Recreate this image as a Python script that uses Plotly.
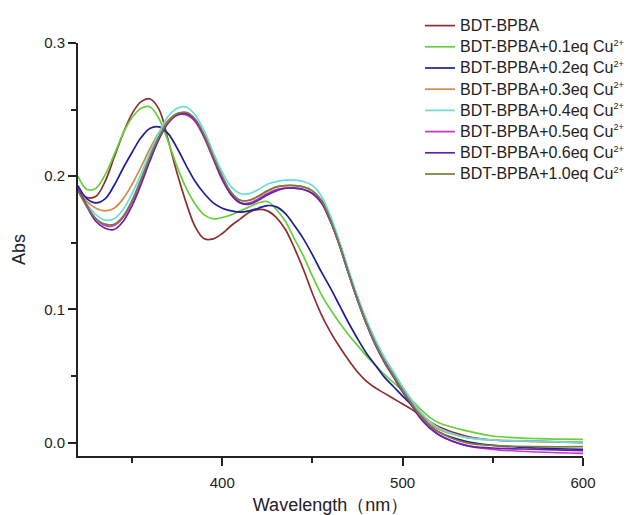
import plotly.graph_objects as go

wavelength = [320, 325, 330, 335, 340, 345, 350, 355, 360, 365, 370, 375, 380, 385, 390, 395,
              400, 405, 410, 415, 420, 425, 430, 435, 440, 445, 450, 455, 460, 465, 470, 475,
              480, 485, 490, 495, 500, 505, 510, 515, 520, 535, 550, 575, 600]

abs_0_0 = [0.190, 0.184, 0.185, 0.196, 0.214, 0.232, 0.247, 0.256, 0.258, 0.250, 0.227, 0.202,
           0.180, 0.162, 0.153, 0.153, 0.157, 0.163, 0.168, 0.173, 0.175, 0.174, 0.169, 0.160,
           0.146, 0.130, 0.112, 0.096, 0.083, 0.072, 0.062, 0.053, 0.046, 0.041, 0.037, 0.033,
           0.029, 0.025, 0.020, 0.016, 0.012, 0.005, 0.002, 0.001, 0.000]

abs_0_1 = [0.200, 0.190, 0.191, 0.201, 0.216, 0.232, 0.244, 0.251, 0.252, 0.243, 0.226, 0.207,
           0.191, 0.179, 0.171, 0.168, 0.169, 0.171, 0.174, 0.177, 0.180, 0.181, 0.175, 0.166,
           0.153, 0.140, 0.125, 0.111, 0.100, 0.090, 0.081, 0.073, 0.065, 0.058, 0.051, 0.045,
           0.039, 0.032, 0.025, 0.019, 0.015, 0.009, 0.005, 0.003, 0.0025]

abs_0_2 = [0.193, 0.183, 0.180, 0.183, 0.193, 0.206, 0.218, 0.229, 0.236, 0.237, 0.232, 0.221,
           0.208, 0.196, 0.187, 0.180, 0.176, 0.174, 0.173, 0.174, 0.176, 0.178, 0.177, 0.172,
           0.163, 0.153, 0.141, 0.128, 0.116, 0.103, 0.090, 0.078, 0.067, 0.058, 0.049, 0.042,
           0.035, 0.028, 0.020, 0.013, 0.008, 0.001, -0.002, -0.004, -0.005]

abs_0_3 = [0.190, 0.181, 0.176, 0.174, 0.176, 0.183, 0.194, 0.207, 0.221, 0.233, 0.242, 0.247,
           0.247, 0.241, 0.229, 0.213, 0.198, 0.187, 0.182, 0.182, 0.185, 0.189, 0.192, 0.193,
           0.193, 0.192, 0.189, 0.182, 0.168, 0.150, 0.128, 0.108, 0.090, 0.075, 0.062, 0.052,
           0.041, 0.031, 0.022, 0.015, 0.010, 0.004, 0.002, 0.001, 0.0005]

abs_0_4 = [0.190, 0.179, 0.171, 0.167, 0.168, 0.175, 0.187, 0.202, 0.218, 0.233, 0.245, 0.251,
           0.252, 0.246, 0.234, 0.218, 0.203, 0.192, 0.187, 0.187, 0.190, 0.194, 0.196, 0.197,
           0.197, 0.196, 0.193, 0.185, 0.170, 0.151, 0.130, 0.110, 0.092, 0.077, 0.064, 0.053,
           0.042, 0.032, 0.023, 0.016, 0.011, 0.004, 0.002, 0.001, 0.000]

abs_0_5 = [0.191, 0.178, 0.168, 0.163, 0.163, 0.169, 0.181, 0.197, 0.214, 0.229, 0.240, 0.246,
           0.246, 0.241, 0.229, 0.213, 0.197, 0.186, 0.180, 0.180, 0.183, 0.187, 0.190, 0.191,
           0.191, 0.190, 0.187, 0.180, 0.166, 0.148, 0.127, 0.107, 0.089, 0.074, 0.061, 0.050,
           0.039, 0.029, 0.019, 0.012, 0.006, -0.002, -0.005, -0.007, -0.008]

abs_0_6 = [0.192, 0.177, 0.166, 0.161, 0.160, 0.166, 0.178, 0.194, 0.212, 0.228, 0.240, 0.246,
           0.247, 0.242, 0.230, 0.214, 0.198, 0.186, 0.180, 0.179, 0.182, 0.186, 0.189, 0.191,
           0.191, 0.190, 0.187, 0.180, 0.166, 0.148, 0.127, 0.107, 0.089, 0.073, 0.060, 0.049,
           0.038, 0.028, 0.018, 0.011, 0.006, -0.002, -0.004, -0.005, -0.006]

abs_1_0 = [0.189, 0.177, 0.168, 0.164, 0.164, 0.170, 0.182, 0.198, 0.215, 0.230, 0.241, 0.247,
           0.248, 0.243, 0.231, 0.215, 0.200, 0.188, 0.182, 0.182, 0.185, 0.189, 0.192, 0.193,
           0.193, 0.192, 0.189, 0.182, 0.167, 0.148, 0.127, 0.107, 0.089, 0.074, 0.061, 0.050,
           0.039, 0.029, 0.020, 0.013, 0.008, 0.000, -0.002, -0.003, -0.003]

series_labels = ["BDT-BPBA",
                 "BDT-BPBA+0.1eq Cu",
                 "BDT-BPBA+0.2eq Cu",
                 "BDT-BPBA+0.3eq Cu",
                 "BDT-BPBA+0.4eq Cu",
                 "BDT-BPBA+0.5eq Cu",
                 "BDT-BPBA+0.6eq Cu",
                 "BDT-BPBA+1.0eq Cu"]
series_sup = ["", "2+", "2+", "2+", "2+", "2+", "2+", "2+"]
series_values = [abs_0_0, abs_0_1, abs_0_2, abs_0_3, abs_0_4, abs_0_5, abs_0_6, abs_1_0]
colors = ["#8E2E30", "#66D03A", "#1F1F96", "#D08C48", "#6ADCDC", "#CC33CC", "#6622AA", "#7C7A3C"]

x_ticks = [400, 500, 600]
x_minor = [350, 450, 550]
y_ticks = [0.0, 0.1, 0.2, 0.3]
y_minor = [0.05, 0.15, 0.25]

FONT = "Arial, Liberation Sans, sans-serif"


def legend_name(label, sup):
    txt = label
    if sup:
        txt += '<sup><span style="font-size:9px">' + sup + '</span></sup>'
    return '<span style="font-size:16px">' + txt + '</span>'


# page body has an 8px default margin; figure coordinates below are page coords minus 8
W, H = 627, 507
ML, MR, MT, MB = 70, 5, 5, 59
plot_right, plot_top = 575, 35
x_dom_end = (plot_right - ML) / (W - ML - MR)
y_dom_end = ((H - MB) - plot_top) / (H - MB - MT)

fig = go.Figure()
for label, sup, vals, col in zip(series_labels, series_sup, series_values, colors):
    fig.add_trace(go.Scatter(x=wavelength, y=vals, mode="lines", name=legend_name(label, sup),
                             line=dict(color=col, width=1.7, shape="spline", smoothing=1.0)))

legend_left = 412
legend_top = 2
fig.update_layout(
    width=W, height=H,
    margin=dict(l=ML, r=MR, t=MT, b=MB, autoexpand=False),
    paper_bgcolor="white", plot_bgcolor="white",
    font=dict(family=FONT, color="#222222", size=15),
    showlegend=True,
    legend=dict(x=(legend_left - ML) / (W - ML - MR),
                y=((H - MB) - legend_top) / (H - MB - MT),
                xanchor="left", yanchor="top",
                font=dict(size=14, family=FONT, color="#222222"),
                bgcolor="rgba(0,0,0,0)", tracegroupgap=0, itemwidth=30),
)
fig.update_xaxes(
    domain=[0, x_dom_end], automargin=False,
    range=[320, 600], showgrid=False, zeroline=False,
    showline=True, linecolor="#222222", linewidth=2,
    ticks="outside", ticklen=8, tickwidth=1.5, tickcolor="#222222",
    tickmode="array", tickvals=x_ticks, ticktext=[str(v) for v in x_ticks],
    tickfont=dict(size=15), ticklabelstandoff=4,
    minor=dict(tickmode="array", tickvals=x_minor, ticks="outside", ticklen=5,
               tickwidth=1.5, tickcolor="#222222"),
    title=dict(text="Wavelength（nm）", font=dict(size=18), standoff=14),
)
fig.update_yaxes(
    domain=[0, y_dom_end], automargin=False,
    range=[-0.01, 0.3], showgrid=False, zeroline=False,
    showline=True, linecolor="#222222", linewidth=2,
    ticks="outside", ticklen=8, tickwidth=1.5, tickcolor="#222222",
    tickmode="array", tickvals=y_ticks, ticktext=["0.0", "0.1", "0.2", "0.3"],
    tickfont=dict(size=15),
    minor=dict(tickmode="array", tickvals=y_minor, ticks="outside", ticklen=5,
               tickwidth=1.5, tickcolor="#222222"),
    title=dict(text="Abs", font=dict(size=18), standoff=14),
)

fig.write_html("out.html")
